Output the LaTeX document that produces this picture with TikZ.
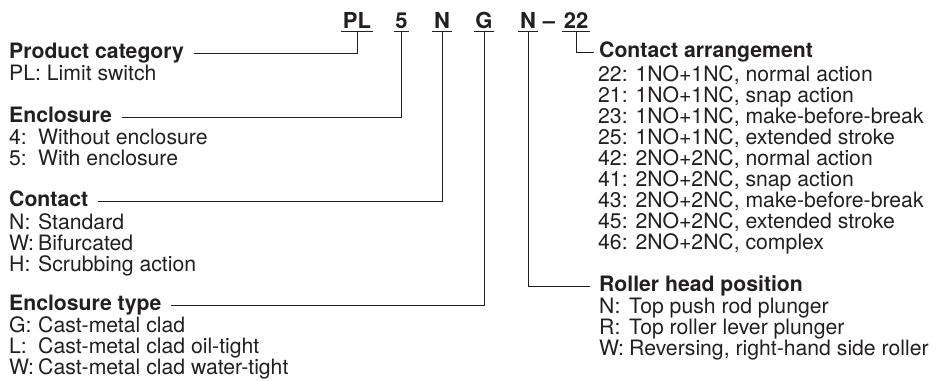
\documentclass[tikz,border=0pt]{standalone}
\usepackage{fontspec}
\setmainfont{TeX Gyre Heros}
\definecolor{ink}{HTML}{231F20}
\begin{document}
\begin{tikzpicture}[x=1pt,y=-1pt,
  every node/.style={inner sep=0pt, text=ink, font=\fontsize{21.2}{21.2}\selectfont},
  hdr/.style={anchor=base west, font=\fontsize{21.2}{21.2}\selectfont\bfseries},
  item/.style={anchor=base west},
  code/.style={anchor=base, font=\fontsize{22}{22}\selectfont\bfseries, inner xsep=1.5pt, inner ysep=3pt},
  lead/.style={draw=ink, line width=0.9pt}]
\useasboundingbox (0,0) rectangle (947,380);

% code row
\node[code] (cPL) at (357,28) {PL};
\node[code] (c5) at (401.5,28) {5};
\node[code] (cN) at (442,28) {N};
\node[code] (cG) at (484,28) {G};
\node[code] (cN2) at (528,28) {N};
\node[code, inner xsep=0pt] (cdash) at (549,28) {–};
\node[code] (c22) at (576,28) {22};
\foreach \c in {cPL,c5,cN,cG,cN2,c22}
  \draw[lead] (\c.south west) -- (\c.south east);

% left column
\node[hdr] (hPC) at (9,58.5) {Product category};
\node[item] (iPL) at (9,80) {PL: Limit switch};

\node[hdr] (hEN) at (9,122.5) {Enclosure};
\node[item] (e4a) at (9,144) {4:};
\node[item] (e4b) at (38,144) {Without enclosure};
\node[item] (e5a) at (9,165) {5:};
\node[item] (e5b) at (38,165) {With enclosure};

\node[hdr] (hCO) at (9,206) {Contact};
\node[item] (cNa) at (9,229) {N:};
\node[item] (cNb) at (38,229) {Standard};
\node[item] (cWa) at (9,250) {W:};
\node[item] (cWb) at (38,250) {Bifurcated};
\node[item] (cHa) at (9,271) {H:};
\node[item] (cHb) at (38,271) {Scrubbing action};

\node[hdr] (hET) at (9,310) {Enclosure type};
\node[item] (tGa) at (9,332) {G:};
\node[item] (tGb) at (38,332) {Cast-metal clad};
\node[item] (tLa) at (9,353) {L:};
\node[item] (tLb) at (38,353) {Cast-metal clad oil-tight};
\node[item] (tWa) at (9,374) {W:};
\node[item] (tWb) at (38,374) {Cast-metal clad water-tight};

% right column
\node[hdr] (hCA) at (599,57) {Contact arrangement};
\node[item] (a1) at (598,81) {22: 1NO+1NC, normal action};
\node[item] (a2) at (598,102.1) {21: 1NO+1NC, snap action};
\node[item] (a3) at (598,123.2) {23: 1NO+1NC, make-before-break};
\node[item] (a4) at (598,144.3) {25: 1NO+1NC, extended stroke};
\node[item] (a5) at (598,165.4) {42: 2NO+2NC, normal action};
\node[item] (a6) at (598,186.5) {41: 2NO+2NC, snap action};
\node[item] (a7) at (598,207.6) {43: 2NO+2NC, make-before-break};
\node[item] (a8) at (598,228.7) {45: 2NO+2NC, extended stroke};
\node[item] (a9) at (598,249.8) {46: 2NO+2NC, complex};

\node[hdr] (hRH) at (599,291) {Roller head position};
\node[item] (rNa) at (599,313) {N:};
\node[item] (rNb) at (629,313) {Top push rod plunger};
\node[item] (rRa) at (599,334) {R:};
\node[item] (rRb) at (629,334) {Top roller lever plunger};
\node[item] (rWa) at (599,355) {W:};
\node[item] (rWb) at (629,355) {Reversing, right-hand side roller};

% connectors
\draw[lead] (cPL.south) |- ([shift={(10pt,5pt)}]hPC.base east);
\draw[lead] (c5.south) |- ([shift={(10pt,5pt)}]hEN.base east);
\draw[lead] (cN.south) |- ([shift={(10pt,5pt)}]hCO.base east);
\draw[lead] (cG.south) |- ([shift={(10pt,5pt)}]hET.base east);
\draw[lead] (cN2.south) |- ([shift={(-9pt,5pt)}]hRH.base west);
\draw[lead] (c22.south) |- ([shift={(-5pt,5pt)}]hCA.base west);
\end{tikzpicture}
\end{document}
